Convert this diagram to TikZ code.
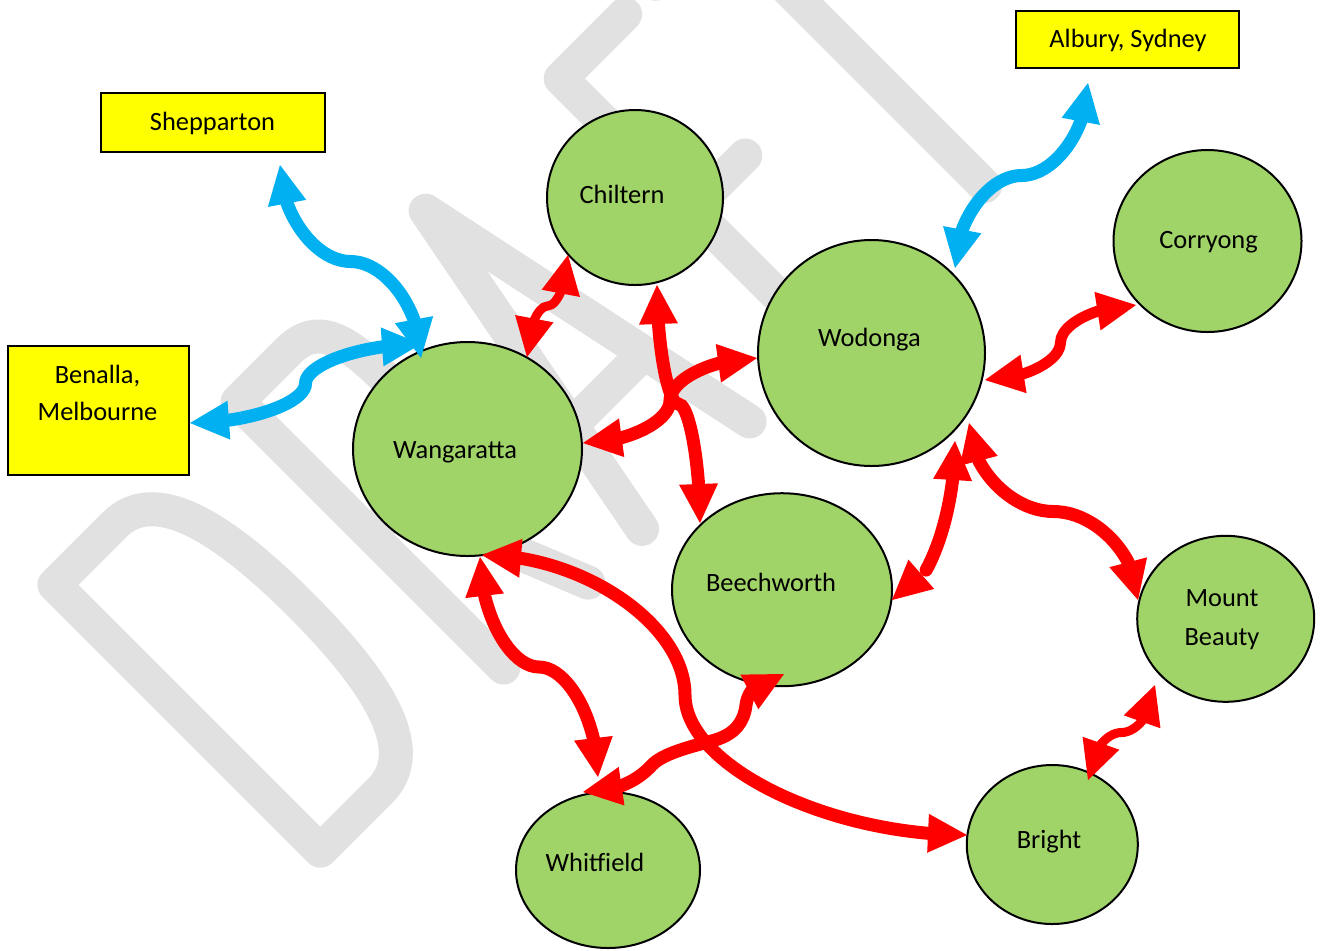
\documentclass[tikz,border=0pt]{standalone}
\usepackage{fontspec}
\setmainfont{Carlito}
\usetikzlibrary{shapes.geometric,arrows.meta,bending,calc}
\definecolor{cgreen}{RGB}{160,211,104}
\definecolor{cblue}{RGB}{0,176,240}
\definecolor{cred}{RGB}{255,0,0}
\definecolor{cyellow}{RGB}{255,255,0}
\definecolor{wmgray}{RGB}{225,225,225}
\begin{document}
\begin{tikzpicture}[x=0.5pt,y=-0.5pt,
  city/.style={ellipse,draw=black,line width=1pt,fill=cgreen,inner sep=0pt},
  placebox/.style={rectangle,draw=black,line width=1pt,fill=cyellow,inner sep=0pt},
  lbl/.style={anchor=base,inner sep=0pt,font=\fontsize{13.2}{18.4}\selectfont},
  conn/.style={line width=6.5pt,line cap=round,
    {Triangle[length=19.5pt,width=19.5pt,line width=0pt,flex]}-{Triangle[length=19.5pt,width=19.5pt,line width=0pt,flex]}},
  redconn/.style={conn,draw=cred},
  midred/.style={redconn,line width=5.5pt},
  thinred/.style={redconn,line width=4.5pt},
  blueconn/.style={conn,draw=cblue},
  wmark/.style={draw=wmgray,line width=17pt,line join=round,line cap=round}
]
\useasboundingbox (0,0) rectangle (1321,950);
\fill[white] (0,0) rectangle (1321,950);

% ---------------- DRAFT watermark ----------------
\begin{scope}
\clip (0,0) rectangle (1321,950);
\begin{scope}[shift={(597.5,597.5)},x={(0.35355pt,0.35355pt)},y={(-0.35355pt,0.35355pt)}]
% D
\draw[wmark] (-375,17) -- (-375,393) -- (-290,393) .. controls (-235,393) and (-215,320) .. (-215,205)
   .. controls (-215,90) and (-235,17) .. (-290,17) -- cycle;
% R
\draw[wmark] (-116,17) -- (-116,393) -- (-45,393) .. controls (-5,393) and (5,365) .. (5,300)
   .. controls (5,232) and (-20,205) .. (-60,205) -- (-116,205);
\draw[wmark] (-72,205) -- (4,17);
% A
\draw[wmark] (80,17) -- (152,395) -- (232,17);
\draw[wmark] (105,140) -- (205,140);
% F
\draw[wmark] (341,17) -- (341,393) -- (432,393);
\draw[wmark] (341,208) -- (417,208);
% T
\draw[wmark] (565,17) -- (565,393);
\draw[wmark] (475,393) -- (655,393);
\end{scope}
\end{scope}

% ---------------- places ----------------
\node[placebox,minimum width=112pt,minimum height=29.5pt] (shep) at (213,122.5) {};
\node[placebox,minimum width=111.5pt,minimum height=28.5pt] (alb) at (1127.5,39.5) {};
\node[placebox,minimum width=90.5pt,minimum height=64.5pt] (ben) at (98.5,410.5) {};

\node[city,minimum width=88pt,minimum height=87.5pt] (chil) at (635,197.5) {};
\node[city,minimum width=113.5pt,minimum height=113pt] (wod) at (871.5,353) {};
\node[city,minimum width=94pt,minimum height=91pt] (cor) at (1207.5,241) {};
\node[city,minimum width=114.5pt,minimum height=107pt] (wang) at (467.5,449) {};
\node[city,minimum width=110pt,minimum height=96.5pt] (bee) at (782,589.7) {};
\node[city,minimum width=88.5pt,minimum height=83pt] (mtb) at (1225.7,618.8) {};
\node[city,minimum width=85.5pt,minimum height=79.5pt] (bri) at (1052.3,844.5) {};
\node[city,minimum width=92pt,minimum height=78pt] (whit) at (608,870) {};

% ---------------- blue connectors ----------------
\draw[blueconn] ($(shep.center)+(67,42.5)$) .. controls (280,213.25) and (315.25,261.5) .. (350.5,261.5)
   .. controls (385.75,261.5) and (421,309.75) .. ($(wang.center)+(-46.5,-91)$);
\draw[blueconn] ($(ben.center)+(91.5,12.5)$) .. controls (247.75,423) and (305.5,403.25) .. (305.5,383.5)
   .. controls (305.5,363.75) and (363.25,344) .. ($(wang.center)+(-46.5,-105)$);
\draw[blueconn] ($(alb.center)+(-39.5,43.5)$) .. controls (1088,129.25) and (1054.75,175.5) .. (1021.5,175.5)
   .. controls (988.25,175.5) and (955,221.75) .. ($(wod.center)+(83.5,-85)$);

% ---------------- red connectors ----------------
\draw[thinred] ($(chil.center)+(-67,57.5)$) .. controls (568,280.5) and (557.75,306) .. (547.5,306)
   .. controls (537.25,306) and (527,331.5) .. ($(wang.center)+(59.5,-92)$);
\draw[redconn] ($(chil.center)+(22,87.5)$) .. controls (657,344.5) and (667.75,404) .. (678.5,404)
   .. controls (689.25,404) and (700,463.5) .. ($(bee.center)+(-82,-66.7)$);
\draw[redconn] ($(wod.center)+(-114.5,5)$) .. controls (713.5,358) and (670,379.25) .. (670,400.5)
   .. controls (670,421.75) and (626.5,443) .. ($(wang.center)+(115.5,-6)$);
\draw[redconn] ($(wang.center)+(12.5,108)$) .. controls (480,612) and (509.5,667) .. (539,667)
   .. controls (568.5,667) and (598,722) .. ($(whit.center)+(-10,-93)$);
\draw[redconn] ($(whit.center)+(-25,-78)$) .. controls (620,792) and (640,778) .. (652,765)
   .. controls (664,752) and (700,744.5) .. (715,740)
   .. controls (735,734) and (744,722) .. (746,705)
   .. controls (748,688) and (765,674) .. ($(bee.center)+(2,84.3)$);
\draw[redconn] ($(wang.center)+(14.5,106)$) .. controls (583.5,555) and (685,625) .. (685,695)
   .. controls (685,765) and (826,835) .. ($(bri.center)+(-85.3,-9.5)$);
\draw[redconn] ($(bee.center)+(110,10.3)$) .. controls (923.5,600) and (955,520.5) .. ($(wod.center)+(83.5,88)$);
\draw[redconn] ($(wod.center)+(97.5,70)$) .. controls (969,467.25) and (1011.25,511.5) .. (1053.5,511.5)
   .. controls (1095.75,511.5) and (1138,555.75) .. ($(mtb.center)+(-87.7,-18.8)$);
\draw[midred] ($(wod.center)+(113.5,27)$) .. controls (1022.75,380) and (1060.5,361.25) .. (1060.5,342.5)
   .. controls (1060.5,323.75) and (1098.25,305) .. ($(cor.center)+(-71.5,64)$);
\draw[thinred] ($(mtb.center)+(-70.7,66.2)$) .. controls (1155,708.75) and (1138.25,732.5) .. (1121.5,732.5)
   .. controls (1104.75,732.5) and (1088,756.25) .. ($(bri.center)+(35.7,-64.5)$);

% ---------------- labels ----------------
\node[lbl] (sheptxt) at (212.5,130.2) {Shepparton};
\node[lbl] (albtxt) at (1128,47.5) {Albury, Sydney};
\node[lbl] (bentxt) at (97.5,383.5) {Benalla,};
\node[lbl] (meltxt) at (97.5,420.2) {Melbourne};
\node[lbl] (chiltxt) at (622,203.1) {Chiltern};
\node[lbl] (wodtxt) at (869.5,346.5) {Wodonga};
\node[lbl] (cortxt) at (1208.5,248.5) {Corryong};
\node[lbl] (wangtxt) at (455,458.5) {Wangaratta};
\node[lbl] (beetxt) at (771,591.5) {Beechworth};
\node[lbl] (mtbtxt) at (1222,606.5) {Mount};
\node[lbl] (beautxt) at (1222,645.2) {Beauty};
\node[lbl] (britxt) at (1049,848.5) {Bright};
\node[lbl] (whittxt) at (595,871.5) {Whitfield};
\end{tikzpicture}
\end{document}
